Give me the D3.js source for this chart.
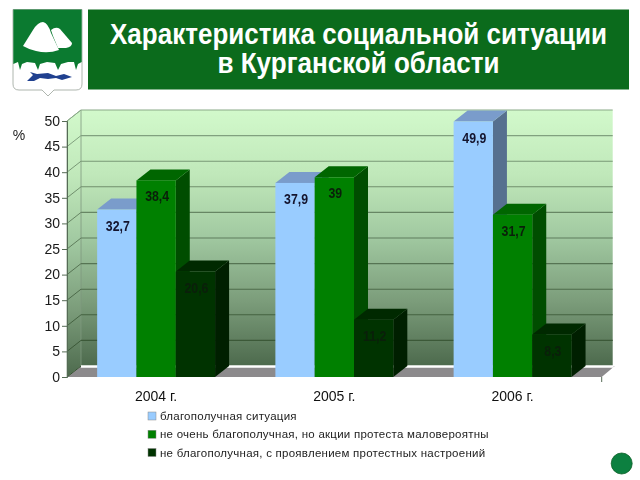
<!DOCTYPE html>
<html><head><meta charset="utf-8">
<script src="https://cdn.jsdelivr.net/npm/d3@7"></script>
<style>html,body{margin:0;padding:0;background:#fff;overflow:hidden}svg{display:block}text{font-family:"Liberation Sans",Arial,sans-serif}</style>
</head><body><svg id="c" width="640" height="480"></svg>
<script>
const categories = ["2004 г.", "2005 г.", "2006 г."];
const seriesNames = ["благополучная ситуация", "не очень благополучная, но акции протеста маловероятны", "не благополучная, с проявлением протестных настроений"];
const seriesA = [32.7, 37.9, 49.9];
const seriesB = [38.4, 39, 31.7];
const seriesC = [20.6, 11.2, 8.3];
const yTicks = [0, 5, 10, 15, 20, 25, 30, 35, 40, 45, 50];
const titleLines = ["Характеристика социальной ситуации", "в Курганской области"];
const frontColors = ["#99ccff", "#008000", "#003300"];
const topColors = ["#7a9ccb", "#006600", "#002900"];
const sideColors = ["#56708f", "#004d00", "#001f00"];

const svg = d3.select("#c");
const root = svg.append("g").style("filter", "blur(0.45px)");
const defs = svg.append("defs");
const grad = defs.append("linearGradient").attr("id", "wall").attr("x1", 0).attr("x2", 0).attr("y1", 0).attr("y2", 1);
[[0, "#d2f9cb"], [0.25, "#c0e8ba"], [0.5, "#a0c8a0"], [0.75, "#7b9c7a"], [1, "#4d6a4d"]].forEach(s => grad.append("stop").attr("offset", s[0]).attr("stop-color", s[1]));

const L = 67, R = 601.7, Y0 = 377, Y50 = 121, DX = 14, DY = 11;
const x = d3.scaleBand().domain(categories).range([L, R]).paddingInner(0).paddingOuter(0);
const x1 = d3.scaleBand().domain(d3.range(3)).range([0, x.bandwidth()]).paddingOuter(0.767).paddingInner(0);
const y = d3.scaleLinear().domain([0, 50]).range([Y0, Y50]);
const poly = p => p.map(q => q.join(",")).join(" ");

/* Header */
root.append("rect").attr("x", 88).attr("y", 9.5).attr("width", 541).attr("height", 80).attr("fill", "#0b6b1c");
root.selectAll("text.title").data(titleLines).join("text").attr("class", "title")
  .attr("transform", (d, i) => `translate(358.5,${43.5 + i * 29.5}) scale(0.868,1)`)
  .attr("text-anchor", "middle").attr("fill", "#fff")
  .attr("font-weight", "bold").attr("font-size", 30)
  .text(d => d);

/* Emblem */
const em = root.append("g");
em.append("path").attr("d", "M13,9.5H82V84Q82,90 76,90H54L48,96L42,90H19Q13,90 13,84Z").attr("fill", "#fff").attr("stroke", "#9aa39a").attr("stroke-width", 0.8);
em.append("path").attr("d", "M13.3,9.5H81.7V62L78,64L76,70L74,62L68,62L61,64L58,70L55,63L47,62L40,64L38,70L35,63L27,62L22,64L20,70L18,62L13.3,64Z").attr("fill", "#0b7a30");
em.append("path").attr("d", "M23,46L33,30Q38,22 43,22Q48,23 51,33L59,50Q48,54 36,51Q28,49 23,46Z").attr("fill", "#fff");
em.append("path").attr("d", "M51,30Q56,26 60,29L72,43Q72,47 66,48L58,48L53,36Z").attr("fill", "#fff");
em.append("path").attr("d", "M27,81L33,75L30,72L37,74L48,73L56,76L64,74L72,77L62,80L56,78L48,79L40,78L34,81Z").attr("fill", "#20408f");

/* Walls and floor */
root.append("rect").attr("x", L + DX).attr("y", Y50 - DY).attr("width", R - L - DX + 11).attr("height", Y0 - Y50).attr("fill", "url(#wall)");
root.append("polygon").attr("points", poly([[L, Y50], [L + DX, Y50 - DY], [L + DX, Y0 - DY], [L, Y0]])).attr("fill", "url(#wall)").attr("stroke", "#7d977d").attr("stroke-width", 0.8);
root.append("polygon").attr("points", poly([[L, Y0], [R, Y0], [R + 13, Y0 - DY], [L + DX, Y0 - DY]])).attr("fill", "#8c8a8c");
root.append("line").attr("x1", L + DX).attr("x2", R + 12).attr("y1", Y0 - DY + 0.5).attr("y2", Y0 - DY + 0.5).attr("stroke", "#fff").attr("stroke-width", 2.6);

const grid = yTicks.filter(t => t > 0);
root.selectAll("line.g").data(grid).join("line").attr("class", "g")
  .attr("x1", L + DX).attr("x2", R + 11).attr("y1", d => y(d) - DY).attr("y2", d => y(d) - DY)
  .attr("stroke", d => d3.interpolateRgb("#33502f", "#8aaa88")(d / 50)).attr("stroke-width", 1.1);
root.selectAll("line.s").data(yTicks).join("line").attr("class", "s")
  .attr("x1", L).attr("x2", L + DX).attr("y1", d => y(d)).attr("y2", d => y(d) - DY)
  .attr("stroke", d => d3.interpolateRgb("#33502f", "#8aaa88")(d / 50)).attr("stroke-width", 1);

/* Y axis */
const axis = root.append("g").attr("transform", `translate(${L},0)`).call(d3.axisLeft(y).tickValues(yTicks).tickSize(5).tickPadding(2));
axis.select(".domain").attr("stroke", "#556b55");
axis.selectAll(".tick line").attr("stroke", "#556b55");
axis.selectAll("text").attr("font-size", 14).attr("fill", "#1a1a1a").attr("dy", "0.3em").style("font-family", '"Liberation Sans",sans-serif');
root.append("text").attr("x", 19).attr("y", 140).attr("text-anchor", "middle").attr("font-size", 14).attr("fill", "#222").text("%");

/* Bars */
const series = [seriesA, seriesB, seriesC];
const bars = root.append("g");
categories.forEach((c, ci) => series.forEach((vals, si) => {
  const v = vals[ci], x0 = x(c) + x1(si), w = x1.bandwidth(), t = y(v), g = bars.append("g");
  g.append("polygon").attr("points", poly([[x0 + w, t], [x0 + w + DX, t - DY], [x0 + w + DX, Y0 - DY], [x0 + w, Y0]])).attr("fill", sideColors[si]);
  g.append("polygon").attr("points", poly([[x0, t], [x0 + DX, t - DY], [x0 + w + DX, t - DY], [x0 + w, t]])).attr("fill", topColors[si]);
  g.append("rect").attr("x", x0).attr("y", t).attr("width", w).attr("height", Y0 - t).attr("fill", frontColors[si]);
}));
categories.forEach((c, ci) => series.forEach((vals, si) => {
  const v = vals[ci];
  root.append("text")
    .attr("transform", `translate(${x(c) + x1(si) + x1.bandwidth() / 2 + 1},${y(v) + 21}) scale(0.88,1)`)
    .attr("text-anchor", "middle").attr("font-size", 14).attr("font-weight", "bold")
    .attr("fill", si === 0 ? "#14142e" : "#0a1f0a")
    .text(String(v).replace(".", ","));
}));

/* Category labels */
root.selectAll("text.cat").data(categories).join("text").attr("class", "cat")
  .attr("x", d => x(d) + x.bandwidth() / 2).attr("y", 401).attr("text-anchor", "middle")
  .attr("font-size", 14).attr("fill", "#111").text(d => d);
root.append("line").attr("x1", R).attr("x2", R).attr("y1", Y0).attr("y2", 382).attr("stroke", "#556b55");

/* Legend */
const ly = d3.scalePoint().domain(d3.range(3)).range([416, 452.5]);
const lg = root.selectAll("g.lg").data(seriesNames).join("g").attr("class", "lg").attr("transform", (d, i) => `translate(148,${ly(i)})`);
lg.append("rect").attr("x", 0).attr("y", -4).attr("width", 8).attr("height", 8).attr("fill", (d, i) => frontColors[i]).attr("stroke", "#8a8a8a").attr("stroke-width", 0.5);
lg.append("text").attr("x", 12).attr("y", 4).attr("font-size", 11.5).attr("fill", "#222").attr("letter-spacing", "0.25px").text(d => d);

/* Nav button */
root.append("circle").attr("cx", 621.7).attr("cy", 463.5).attr("r", 10.5).attr("fill", "#0c8040").attr("stroke", "#0a5e25").attr("stroke-width", 0.8);
</script></body></html>
